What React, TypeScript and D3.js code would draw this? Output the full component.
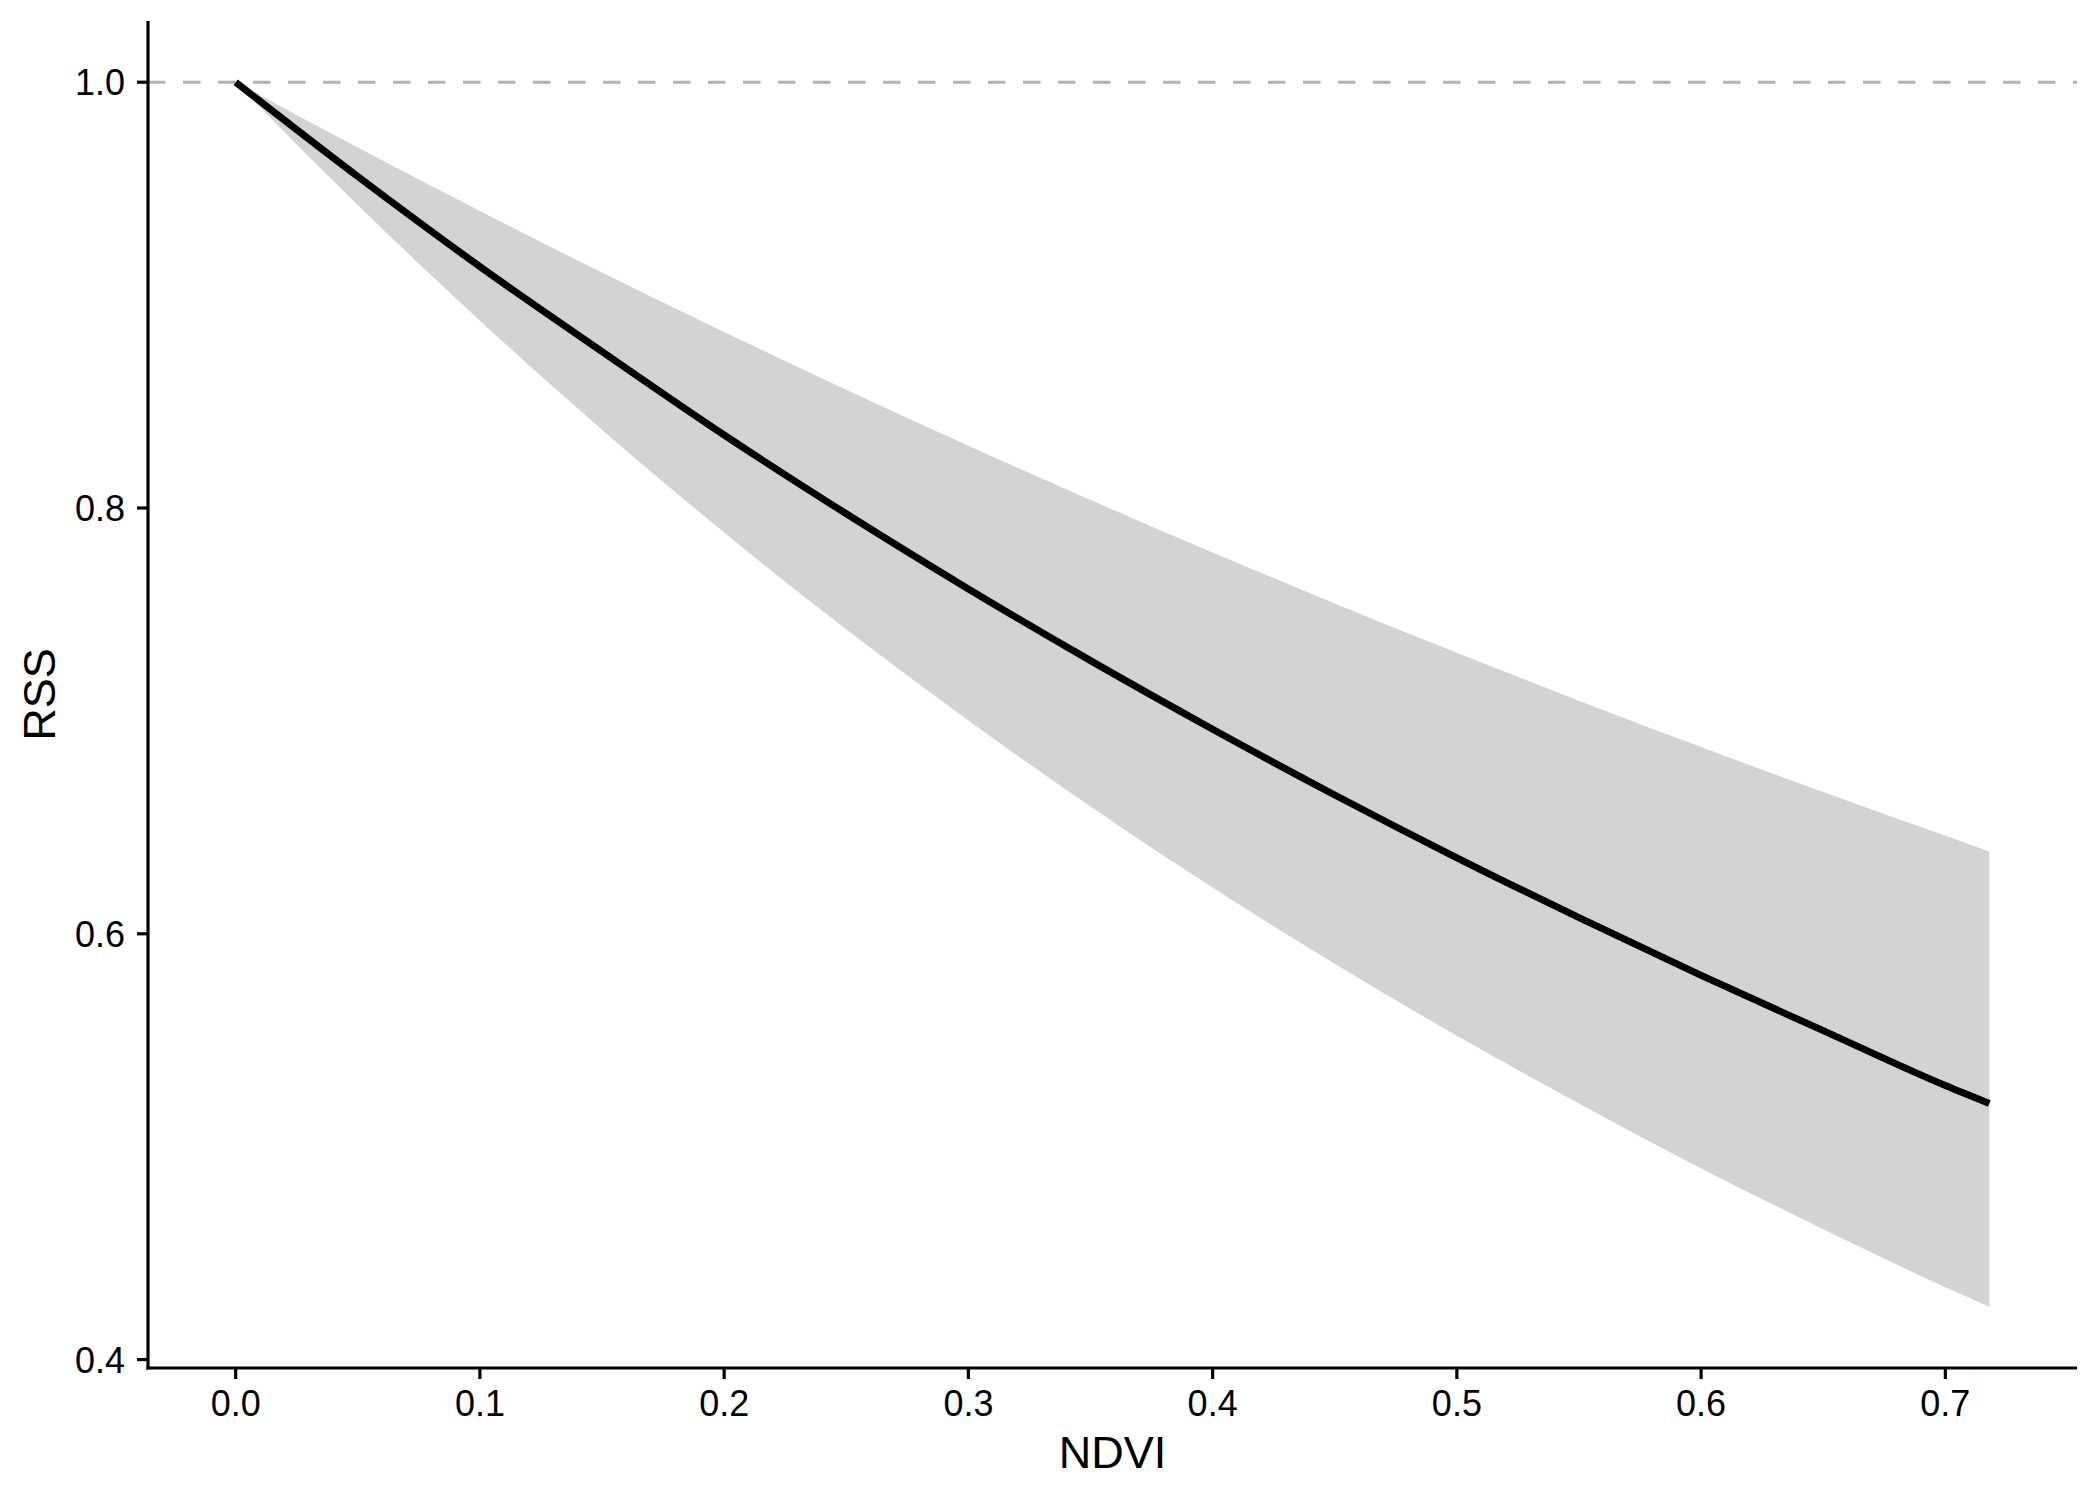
import * as d3 from 'd3'

// values
const ndvi = [0, 0.05, 0.1, 0.15, 0.2, 0.25, 0.3, 0.35, 0.4, 0.45, 0.5, 0.55, 0.6, 0.65, 0.7, 0.718]
const rss = [1, 0.9557, 0.9134, 0.8735, 0.8343, 0.7973, 0.762, 0.7283, 0.6961, 0.6652, 0.6357, 0.6076, 0.5805, 0.5545, 0.5287, 0.5203]
const rssUpper = [1, 0.9693, 0.9395, 0.9106, 0.8827, 0.8556, 0.8293, 0.8038, 0.7791, 0.7552, 0.732, 0.7095, 0.6877, 0.6666, 0.6461, 0.6387]
const rssLower = [1, 0.9423, 0.888, 0.8368, 0.7885, 0.743, 0.7002, 0.6598, 0.6217, 0.5859, 0.5521, 0.5203, 0.4898, 0.4612, 0.434, 0.4248]

const xTicks = [0, 0.1, 0.2, 0.3, 0.4, 0.5, 0.6, 0.7]
const yTicks = [0.4, 0.6, 0.8, 1.0]

const W = 2100
const H = 1500
const margin = { top: 21, right: 23, bottom: 132, left: 148 }
const FONT = '"Liberation Sans", Arial, Helvetica, sans-serif'

export default function App() {
  const innerW = W - margin.left - margin.right
  const innerH = H - margin.top - margin.bottom

  // ggplot-style 5% expansion
  const xr = d3.max(ndvi)! - d3.min(ndvi)!
  const yMin = d3.min(rssLower)!
  const yMax = d3.max(rssUpper)!
  const yr = yMax - yMin

  const x = d3.scaleLinear()
    .domain([d3.min(ndvi)! - 0.05 * xr, d3.max(ndvi)! + 0.05 * xr])
    .range([0, innerW])
  const y = d3.scaleLinear()
    .domain([yMin - 0.05 * yr, yMax + 0.05 * yr])
    .range([innerH, 0])

  const idx = d3.range(ndvi.length)

  const band = d3.area<number>()
    .x(i => x(ndvi[i]))
    .y0(i => y(rssLower[i]))
    .y1(i => y(rssUpper[i]))
    .curve(d3.curveMonotoneX)

  const fit = d3.line<number>()
    .x(i => x(ndvi[i]))
    .y(i => y(rss[i]))
    .curve(d3.curveMonotoneX)

  const tickLen = 11
  const axisW = 3.2

  return (
    <svg width={W} height={H} style={{ position: 'absolute', left: 0, top: 0, background: '#fff' }}
      fontFamily={FONT}>
      <rect width={W} height={H} fill="#fff" />
      <g transform={`translate(${margin.left},${margin.top})`}>
        <path d={band(idx) || ''} fill="#d3d3d3" />
        <line x1={0} x2={innerW} y1={y(1)} y2={y(1)}
          stroke="#b3b3b3" strokeWidth={3.2} strokeDasharray="17.5 17.5" />
        <path d={fit(idx) || ''} fill="none" stroke="#000" strokeWidth={7} />

        {/* y axis */}
        <line x1={0} x2={0} y1={0} y2={innerH + axisW / 2} stroke="#000" strokeWidth={axisW} />
        {yTicks.map(t => (
          <g key={t} transform={`translate(0,${y(t)})`}>
            <line x1={-tickLen} x2={0} stroke="#000" strokeWidth={axisW} />
            <text x={-23} dy="0.36em" textAnchor="end" fontSize={36} fill="#000">{t.toFixed(1)}</text>
          </g>
        ))}

        {/* x axis */}
        <line x1={-axisW / 2} x2={innerW} y1={innerH} y2={innerH} stroke="#000" strokeWidth={axisW} />
        {xTicks.map(t => (
          <g key={t} transform={`translate(${x(t)},${innerH})`}>
            <line y1={0} y2={tickLen} stroke="#000" strokeWidth={axisW} />
            <text y={48} textAnchor="middle" fontSize={36} fill="#000">{t.toFixed(1)}</text>
          </g>
        ))}

        <text x={innerW / 2} y={innerH + 100} textAnchor="middle" fontSize={45} fill="#000">NDVI</text>
        <text transform={`translate(-93,${innerH / 2}) rotate(-90)`} textAnchor="middle"
          fontSize={45} fill="#000">RSS</text>
      </g>
    </svg>
  )
}
